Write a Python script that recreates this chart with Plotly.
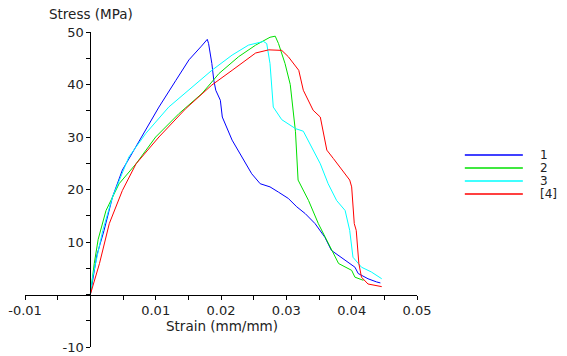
import plotly.graph_objects as go

# ---- data ----
series_names = ["1", "2", "3", "[4]"]
series_colors = ["#0000FF", "#00E000", "#00FFFF", "#FF0000"]

strain_1 = [0, 0.0004, 0.0010, 0.0021, 0.0034, 0.0049, 0.0064, 0.0085, 0.0105, 0.0131, 0.0151, 0.0170,
            0.0179, 0.0181, 0.0186, 0.0189, 0.0192, 0.0199, 0.0202, 0.0217, 0.0232, 0.0247, 0.0260,
            0.0275, 0.0288, 0.0303, 0.0316, 0.0329, 0.0344, 0.0359, 0.0369, 0.0390, 0.0405, 0.0410,
            0.0425, 0.0438, 0.0444]
stress_1 = [0, 3.3, 7.5, 12.2, 18.6, 23.7, 26.9, 31.3, 35.7, 40.8, 44.7, 47.3,
            48.6, 47.8, 44.0, 40.8, 38.9, 37.0, 33.8, 29.4, 26.2, 23.0, 21.1,
            20.5, 19.5, 18.3, 16.7, 15.4, 13.5, 10.9, 8.4, 6.5, 5.2, 4.0,
            3.0, 2.4, 2.2]

strain_2 = [0, 0.0006, 0.0012, 0.0024, 0.0044, 0.0070, 0.0100, 0.0136, 0.0171, 0.0197, 0.0227, 0.0253,
            0.0275, 0.0283, 0.0288, 0.0298, 0.0306, 0.0314, 0.0318, 0.0334, 0.0349, 0.0364, 0.0380,
            0.0400, 0.0405, 0.0418]
stress_2 = [0, 5.9, 10.5, 16.0, 21.1, 24.9, 30.0, 34.5, 38.3, 42.1, 45.3, 47.5,
            49.0, 49.2, 47.8, 44.0, 40.0, 31.0, 21.8, 17.9, 13.5, 9.7, 5.9,
            4.6, 3.3, 2.7]

strain_3 = [0, 0.00035, 0.0019, 0.0034, 0.0059, 0.0085, 0.0120, 0.0156, 0.0186, 0.0217, 0.0242, 0.0265,
            0.0270, 0.0275, 0.0280, 0.0293, 0.0314, 0.0326, 0.0339, 0.0352, 0.0364, 0.0377, 0.0390,
            0.0397, 0.0402, 0.0415, 0.0430, 0.0446]
stress_3 = [0, 3.3, 12.2, 18.6, 26.2, 30.7, 35.7, 39.6, 42.7, 45.6, 47.5, 48.2,
            47.8, 44.0, 35.7, 33.3, 31.6, 31.1, 28.1, 24.9, 21.1, 17.9, 16.0,
            12.2, 7.1, 5.2, 4.3, 3.0]

strain_4 = [0, 0.0014, 0.0029, 0.0049, 0.0070, 0.0105, 0.0146, 0.0186, 0.0217, 0.0253, 0.0273, 0.0293,
            0.0303, 0.0319, 0.0326, 0.0341, 0.0352, 0.0362, 0.0372, 0.0385, 0.0397, 0.0400, 0.0404,
            0.0407, 0.0411, 0.0415, 0.0425, 0.0446]
stress_4 = [0, 5.9, 13.5, 19.8, 24.9, 30.0, 35.4, 39.9, 42.7, 46.0, 46.6, 46.5,
            45.3, 42.7, 38.9, 35.1, 33.8, 27.5, 25.9, 23.7, 21.8, 20.5, 13.5,
            12.2, 5.9, 3.3, 2.0, 1.5]

x_tickvals = [-0.01, -0.005, 0, 0.005, 0.01, 0.015, 0.02, 0.025, 0.03, 0.035, 0.04, 0.045, 0.05]
x_ticktext = ["-0.01", "", "", "", "0.01", "", "0.02", "", "0.03", "", "0.04", "", "0.05"]
y_tickvals = [-10, -5, 0, 5, 10, 15, 20, 25, 30, 35, 40, 45, 50]
y_ticktext = ["-10", "", "", "", "10", "", "20", "", "30", "", "40", "", "50"]

x_title = "Strain (mm/mm)"
y_title = "Stress (MPa)"

FONT = "DejaVu Sans"
TXT = "#222222"

xs = [strain_1, strain_2, strain_3, strain_4]
ys = [stress_1, stress_2, stress_3, stress_4]

fig = go.Figure()
for name, color, x, y in zip(series_names, series_colors, xs, ys):
    fig.add_trace(go.Scatter(x=x, y=y, mode="lines", name=name,
                             line=dict(color=color, width=1), showlegend=False))

xmin, xmax = -0.01, 0.05
ymin, ymax = -10, 50

fig.update_layout(
    width=567, height=356,
    margin=dict(l=25, r=150, t=32, b=9, autoexpand=False),
    paper_bgcolor="white", plot_bgcolor="white",
    font=dict(family=FONT, size=13, color=TXT),
    xaxis=dict(range=[xmin, xmax], anchor="free", position=(0 - ymin) / (ymax - ymin),
               automargin=False,
               showgrid=False, zeroline=False, showline=True, linecolor="black", linewidth=1,
               tickmode="array", tickvals=x_tickvals, ticktext=x_ticktext,
               ticks="outside", ticklen=4, tickcolor="black",
               tickfont=dict(family=FONT, size=13, color=TXT)),
    yaxis=dict(range=[ymin, ymax], anchor="free", position=(0 - xmin) / (xmax - xmin),
               automargin=False,
               showgrid=False, zeroline=False, showline=True, linecolor="black", linewidth=1,
               tickmode="array", tickvals=y_tickvals, ticktext=y_ticktext,
               ticks="outside", ticklen=4, tickcolor="black",
               tickfont=dict(family=FONT, size=13, color=TXT)),
)

fig.add_annotation(text=y_title, xref="paper", yref="paper", x=0.168, y=1.057,
                   showarrow=False, xanchor="center", yanchor="middle",
                   font=dict(family=FONT, size=13.5, color=TXT))
fig.add_annotation(text=x_title, xref="paper", yref="paper", x=0.502, y=0.067,
                   showarrow=False, xanchor="center", yanchor="middle",
                   font=dict(family=FONT, size=13.5, color=TXT))

# custom legend (layout only)
leg_y = [0.6095, 0.568, 0.527, 0.486]
for name, color, yy in zip(series_names, series_colors, leg_y):
    fig.add_shape(type="line", xref="paper", yref="paper", x0=1.122, x1=1.270, y0=yy, y1=yy,
                  line=dict(color=color, width=1.5))
    fig.add_annotation(text=name, xref="paper", yref="paper", x=1.31, y=yy,
                       showarrow=False, xanchor="left", yanchor="middle",
                       font=dict(family=FONT, size=12, color=TXT), borderpad=0)

fig.write_html("out.html")
